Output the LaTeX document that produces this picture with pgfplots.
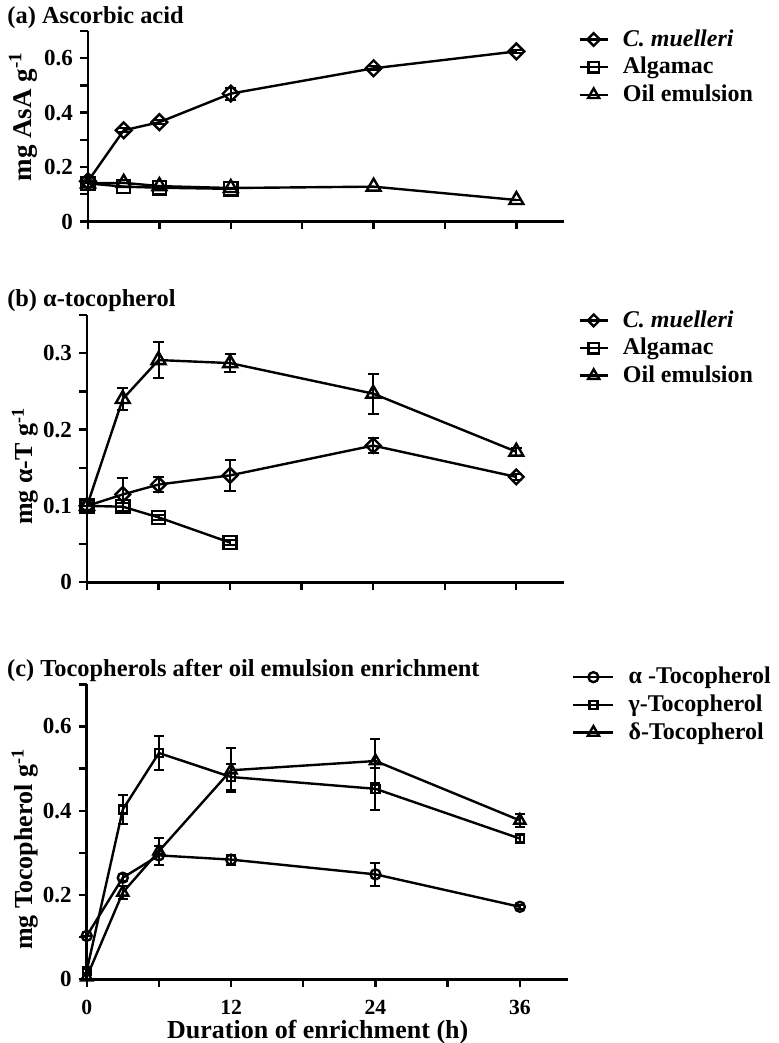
\documentclass[border=0pt]{standalone}
\usepackage{fontspec}
\setmainfont{Liberation Serif}
\usepackage{pgfplots}
\usepackage{pgfplotstable}
\pgfplotsset{compat=1.18}

\pgfplotstableread{
x y e
0 0.148 0
3 0.335 0.008
6 0.365 0.008
12 0.470 0.022
24 0.563 0.008
36 0.625 0.006
}\aCm
\pgfplotstableread{
x y e
0 0.140 0
3 0.128 0
6 0.124 0
12 0.120 0
}\aAlg
\pgfplotstableread{
x y e
0 0.140 0
3 0.142 0
6 0.130 0
12 0.123 0
24 0.128 0
36 0.079 0
}\aOil
\pgfplotstableread{
x y e
0 0.100 0
3 0.115 0.022
6 0.128 0.010
12 0.140 0.020
24 0.179 0.010
36 0.138 0.004
}\bCm
\pgfplotstableread{
x y e
0 0.100 0
3 0.099 0.005
6 0.085 0.003
12 0.052 0.003
}\bAlg
\pgfplotstableread{
x y e
0 0.100 0
3 0.240 0.015
6 0.291 0.024
12 0.287 0.012
24 0.247 0.026
36 0.171 0.005
}\bOil
\pgfplotstableread{
x y e
0 0.103 0
3 0.241 0.008
6 0.294 0.022
12 0.284 0.012
24 0.249 0.027
36 0.172 0.005
}\cA
\pgfplotstableread{
x y e
0 0.020 0.005
3 0.403 0.034
6 0.537 0.040
12 0.480 0.032
24 0.452 0.050
36 0.334 0.010
}\cG
\pgfplotstableread{
x y e
0 0.005 0.005
3 0.206 0.015
6 0.304 0.032
12 0.496 0.052
24 0.518 0.052
36 0.377 0.015
}\cD

\pgfplotsset{
  panel/.style={
    scale only axis,
    axis lines=left,
    axis line style={line width=1.3pt,-},
    xmin=0, xmax=40,
    xtick={0,6,12,18,24,30,36},
    tick align=outside,
    major tick length=4pt,
    tick style={line width=1.2pt,black},
    ticklabel style={font=\fontsize{11.5}{13}\selectfont\bfseries},
    xticklabel style={font=\fontsize{10.8}{12}\selectfont\bfseries,yshift=-3pt},
    /pgf/number format/assume math mode=true,
    clip=false,
    every axis title shift=0pt,
    title style={anchor=base west,inner sep=0pt,font=\fontsize{12.2}{14}\selectfont\bfseries},
    ylabel style={anchor=base,rotate=0,font=\fontsize{13}{15}\selectfont\bfseries},
    legend style={draw=none,fill=none,anchor=north west,
      font=\fontsize{12}{14}\selectfont\bfseries,row sep=0pt,
      /tikz/every odd column/.append style={column sep=5pt}},
    legend cell align=left,
    error bars/y dir=both,
    error bars/y explicit,
    error bars/error bar style={line width=1pt,black},
  },
  legsmall/.style={
    legend image code/.code={\draw[mark repeat=2,mark phase=2,##1,every mark/.append style={scale=0.8}]
      plot coordinates {(0pt,0pt) (7pt,0pt) (14pt,0pt)};}
  },
  legbig/.style={
    legend image code/.code={\draw[mark repeat=2,mark phase=2,##1]
      plot coordinates {(0pt,0pt) (10pt,0pt) (20pt,0pt)};}
  },
}

\begin{document}
\begin{tikzpicture}
\useasboundingbox (0,0) rectangle (389.5pt,521.5pt);

% (a)
\begin{axis}[panel, legsmall,
  at={(44pt,410.75pt)}, anchor=south west,
  width=238pt, height=95.25pt,
  ymin=0, ymax=0.7,
  ytick={0,0.1,0.2,0.3,0.4,0.5,0.6,0.7},
  yticklabels={0,,0.2,,0.4,,0.6,},
  xticklabels={,,,,,,},
  title={(a) Ascorbic acid},
  title style={at={(axis description cs:-0.170,1.037)}},
  ylabel={mg AsA g\textsuperscript{-1}},
  ylabel style={at={(axis description cs:-0.118,0.55)},font=\fontsize{13.5}{15}\selectfont\bfseries},
  legend style={at={(1.017,1.051)}},
  error bars/error mark options={rotate=90,mark size=2.8pt,line width=1pt,black},
]
\addplot[black, line width=1.2pt, mark=square, mark size=2.8pt, mark options={rotate=45,line width=1.2pt,black}]
  table[x=x,y=y,y error=e]{\aCm};
\addlegendentry{\textit{C. muelleri}}
\addplot[black, line width=1.2pt, mark=square, mark size=3.3pt, mark options={line width=1.2pt,black}]
  table[x=x,y=y,y error=e]{\aAlg};
\addlegendentry{Algamac}
\addplot[black, line width=1.2pt, mark=triangle, mark size=4pt, mark options={line width=1.2pt,black}]
  table[x=x,y=y,y error=e]{\aOil};
\addlegendentry{Oil emulsion}
\end{axis}

% (b)
\begin{axis}[panel, legsmall,
  at={(43.5pt,230.35pt)}, anchor=south west,
  width=238.5pt, height=133.65pt,
  ymin=0, ymax=0.35,
  ytick={0,0.05,0.1,0.15,0.2,0.25,0.3,0.35},
  yticklabels={0,,0.1,,0.2,,0.3,},
  xticklabels={,,,,,,},
  title={(b) α-tocopherol},
  title style={at={(axis description cs:-0.168,1.031)}},
  ylabel={mg α-T g\textsuperscript{-1}},
  ylabel style={at={(axis description cs:-0.114,0.435)}},
  legend style={at={(1.017,1.048)}},
  error bars/error mark options={rotate=90,mark size=2.8pt,line width=1pt,black},
]
\addplot[black, line width=1.2pt, mark=square, mark size=2.6pt, mark options={rotate=45,line width=1.2pt,black}]
  table[x=x,y=y,y error=e]{\bCm};
\addlegendentry{\textit{C. muelleri}}
\addplot[black, line width=1.2pt, mark=square, mark size=3.3pt, mark options={line width=1.2pt,black}]
  table[x=x,y=y,y error=e]{\bAlg};
\addlegendentry{Algamac}
\addplot[black, line width=1.2pt, mark=triangle, mark size=4pt, mark options={line width=1.2pt,black}]
  table[x=x,y=y,y error=e]{\bOil};
\addlegendentry{Oil emulsion}
\end{axis}

% (c)
\begin{axis}[panel, legbig,
  at={(43.35pt,31.85pt)}, anchor=south west,
  width=240.65pt, height=147.5pt,
  ymin=0, ymax=0.7,
  ytick={0,0.1,0.2,0.3,0.4,0.5,0.6,0.7},
  yticklabels={0,,0.2,,0.4,,0.6,},
  xticklabels={0,,12,,24,,36},
  title={(c) Tocopherols after oil emulsion enrichment},
  title style={at={(axis description cs:-0.166,1.026)}},
  ylabel={mg Tocopherol g\textsuperscript{-1}},
  ylabel style={at={(axis description cs:-0.113,0.441)}},
  xlabel={Duration of enrichment (h)},
  xlabel style={at={(axis description cs:0.48,-0.201)},anchor=base,font=\fontsize{13}{15}\selectfont\bfseries},
  legend style={at={(0.9955,1.086)}},
  error bars/error mark options={rotate=90,mark size=2.5pt,line width=1pt,black},
]
\addplot[black, line width=1.2pt, mark=o, mark size=2.5pt, mark options={line width=1.2pt,black}]
  table[x=x,y=y,y error=e]{\cA};
\addlegendentry{α -Tocopherol}
\addplot[black, line width=1.2pt, mark=square, mark size=2pt, mark options={line width=1.2pt,black}]
  table[x=x,y=y,y error=e]{\cG};
\addlegendentry{γ-Tocopherol}
\addplot[black, line width=1.2pt, mark=triangle, mark size=3.2pt, mark options={line width=1.2pt,black}]
  table[x=x,y=y,y error=e]{\cD};
\addlegendentry{δ-Tocopherol}
\end{axis}
\end{tikzpicture}
\end{document}
